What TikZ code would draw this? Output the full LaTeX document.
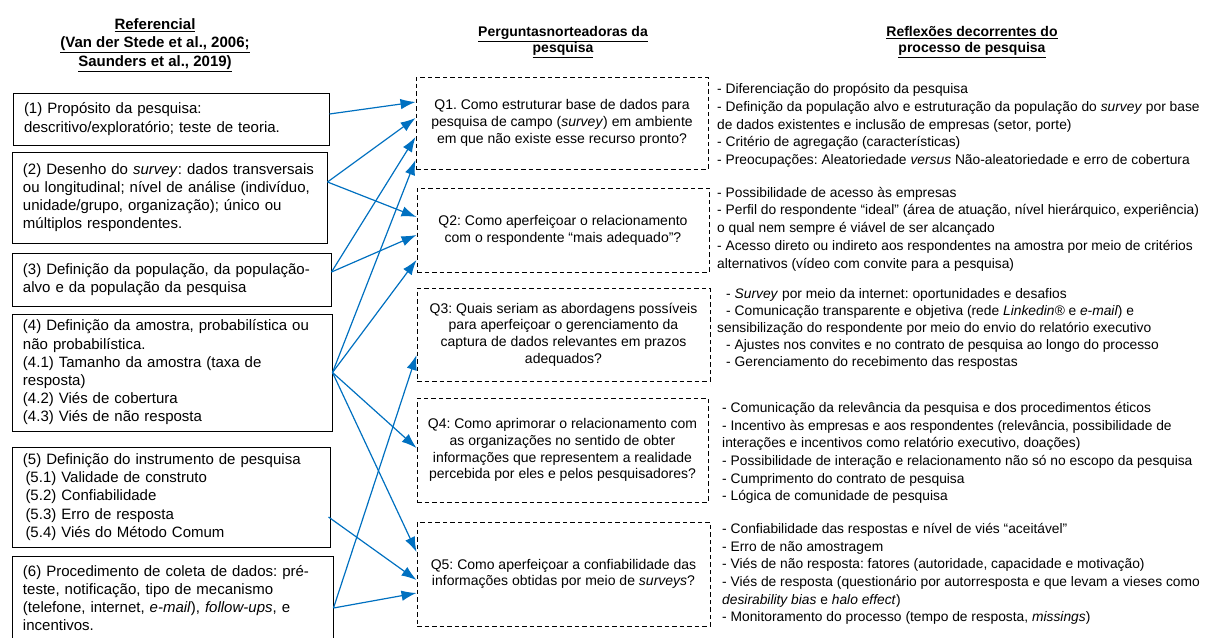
\documentclass[tikz,border=0pt]{standalone}
\usepackage{fontspec}
\setmainfont{Liberation Sans}
\usetikzlibrary{arrows.meta}
\definecolor{arrowblue}{RGB}{0,112,192}
\frenchspacing
\hyphenpenalty=10000
\exhyphenpenalty=10000
\tikzset{
  lbox/.style={draw=black, line width=1pt, align=left, inner xsep=11pt, inner ysep=2pt,
    font=\fontsize{15}{18.2}\selectfont},
  qbox/.style={draw=black, line width=1pt, dash pattern=on 4.5pt off 3pt, align=center,
    inner sep=3pt, font=\fontsize{14}{16.8}\selectfont},
  rtext/.style={anchor=west, align=left, inner sep=0pt, font=\fontsize{13.8}{17.8}\selectfont},
  ttl/.style={align=center, inner sep=0pt, font=\bfseries\fontsize{14}{16.5}\selectfont},
  conn/.style={draw=arrowblue, line width=1.2pt, -{Latex[length=15pt,width=10.5pt]}}
}
\begin{document}
\begin{tikzpicture}[x=1pt,y=-1pt]
\useasboundingbox (0,0) rectangle (1209,637);

% titles
\node[ttl, font=\bfseries\fontsize{15}{18.5}\selectfont] (t1) at (155,45)
  {\underline{Referencial}\\\underline{(Van der Stede et al., 2006;}\\\underline{Saunders et al., 2019)}};
\node[ttl] (t2) at (563,42) {\underline{Perguntasnorteadoras da}\\\underline{pesquisa}};
\node[ttl] (t3) at (972,42) {\underline{Reflexões decorrentes do}\\\underline{processo de pesquisa}};

% left boxes
\node[lbox, minimum width=316pt, minimum height=52pt, text width=294pt] (b1) at (171,119)
  {(1) Propósito da pesquisa:\\descritivo/exploratório; teste de teoria.};
\node[lbox, minimum width=315pt, minimum height=91pt, text width=293pt] (b2) at (169.5,197.5)
  {(2) Desenho do \textit{survey}: dados transversais\\ou longitudinal; nível de análise (indivíduo,\\unidade/grupo, organização); único ou\\múltiplos respondentes.};
\node[lbox, minimum width=319pt, minimum height=53pt, text width=297pt] (b3) at (171.5,279.5)
  {(3) Definição da população, da população-\\alvo e da população da pesquisa};
\node[lbox, minimum width=320pt, minimum height=117pt, text width=298pt] (b4) at (172,372.5)
  {(4) Definição da amostra, probabilística ou\\não probabilística.\\(4.1) Tamanho da amostra (taxa de\\resposta)\\(4.2) Viés de cobertura\\(4.3) Viés de não resposta};
\node[lbox, minimum width=318pt, minimum height=100pt, text width=296pt] (b5) at (171,497)
  {(5) Definição do instrumento de pesquisa\\\hspace*{2.5pt}(5.1) Validade de construto\\\hspace*{2.5pt}(5.2) Confiabilidade\\\hspace*{2.5pt}(5.3) Erro de resposta\\\hspace*{2.5pt}(5.4) Viés do Método Comum};
\node[lbox, minimum width=321pt, minimum height=84pt, text width=299pt] (b6) at (172.5,598)
  {(6) Procedimento de coleta de dados: pré-\\teste, notificação, tipo de mecanismo\\(telefone, internet, \textit{e-mail}), \textit{follow-ups}, e\\incentivos.};

% question boxes
\node[qbox, minimum width=292pt, minimum height=92pt] (q1) at (562,123)
  {Q1. Como estruturar base de dados para\\pesquisa de campo (\textit{survey}) em ambiente\\em que não existe esse recurso pronto?};
\node[qbox, minimum width=292pt, minimum height=84pt] (q2) at (563,230)
  {Q2: Como aperfeiçoar o relacionamento\\com o respondente “mais adequado”?};
\node[qbox, minimum width=293pt, minimum height=93pt] (q3) at (563.5,334.5)
  {Q3: Quais seriam as abordagens possíveis\\para aperfeiçoar o gerenciamento da\\captura de dados relevantes em prazos\\adequados?};
\node[qbox, minimum width=291pt, minimum height=104pt] (q4) at (562.5,450)
  {Q4: Como aprimorar o relacionamento com\\as organizações no sentido de obter\\informações que representem a realidade\\percebida por eles e pelos pesquisadores?};
\node[qbox, minimum width=293pt, minimum height=104pt] (q5) at (563.5,574)
  {Q5: Como aperfeiçoar a confiabilidade das\\informações obtidas por meio de \textit{surveys}?};

% reflections
\node[rtext] (r1) at (717,125.5)
  {- Diferenciação do propósito da pesquisa\\- Definição da população alvo e estruturação da população do \textit{survey} por base\\de dados existentes e inclusão de empresas (setor, porte)\\- Critério de agregação (características)\\- Preocupações: Aleatoriedade \textit{versus} Não-aleatoriedade e erro de cobertura};
\node[rtext] (r2) at (717,229)
  {- Possibilidade de acesso às empresas\\- Perfil do respondente “ideal” (área de atuação, nível hierárquico, experiência)\\o qual nem sempre é viável de ser alcançado\\- Acesso direto ou indireto aos respondentes na amostra por meio de critérios\\alternativos (vídeo com convite para a pesquisa)};
\node[rtext, font=\fontsize{13.8}{17.2}\selectfont] (r3) at (717,329)
  {\hspace*{9pt}- \textit{Survey} por meio da internet: oportunidades e desafios\\\hspace*{9pt}- Comunicação transparente e objetiva (rede \textit{Linkedin®} e \textit{e-mail}) e\\sensibilização do respondente por meio do envio do relatório executivo\\\hspace*{9pt}- Ajustes nos convites e no contrato de pesquisa ao longo do processo\\\hspace*{9pt}- Gerenciamento do recebimento das respostas};
\node[rtext, font=\fontsize{13.8}{17.6}\selectfont] (r4) at (722,453)
  {- Comunicação da relevância da pesquisa e dos procedimentos éticos\\- Incentivo às empresas e aos respondentes (relevância, possibilidade de\\interações e incentivos como relatório executivo, doações)\\- Possibilidade de interação e relacionamento não só no escopo da pesquisa\\- Cumprimento do contrato de pesquisa\\- Lógica de comunidade de pesquisa};
\node[rtext, font=\fontsize{13.8}{17.6}\selectfont] (r5) at (722,574)
  {- Confiabilidade das respostas e nível de viés “aceitável”\\- Erro de não amostragem\\- Viés de não resposta: fatores (autoridade, capacidade e motivação)\\- Viés de resposta (questionário por autorresposta e que levam a vieses como\\\textit{desirability bias} e \textit{halo effect})\\- Monitoramento do processo (tempo de resposta, \textit{missings})};

% connectors
\draw[conn] ([yshift=5pt]b1.east) -- ([yshift=21pt]q1.west);
\draw[conn] ([yshift=15.5pt]b2.east) -- ([yshift=5pt]q1.west);
\draw[conn] ([yshift=15.5pt]b2.east) -- ([yshift=13pt]q2.west);
\draw[conn] ([yshift=7.5pt]b3.east) -- ([yshift=-14pt]q1.west);
\draw[conn] ([yshift=7.5pt]b3.east) -- ([yshift=-5pt]q2.west);
\draw[conn] (b4.east) -- ([yshift=-37pt]q1.west);
\draw[conn] (b4.east) -- ([yshift=-30pt]q2.west);
\draw[conn] (b4.east) -- ([yshift=2pt]q4.west);
\draw[conn] (b4.east) -- ([yshift=22pt]q5.west);
\draw[conn] ([xshift=-2pt,yshift=-20pt]b5.east) -- ([yshift=-6pt]q5.west);
\draw[conn] ([yshift=-10pt]b6.east) -- ([yshift=-20.5pt]q3.west);
\draw[conn] ([yshift=-10pt]b6.east) -- ([yshift=-19pt]q5.west);
\end{tikzpicture}
\end{document}
